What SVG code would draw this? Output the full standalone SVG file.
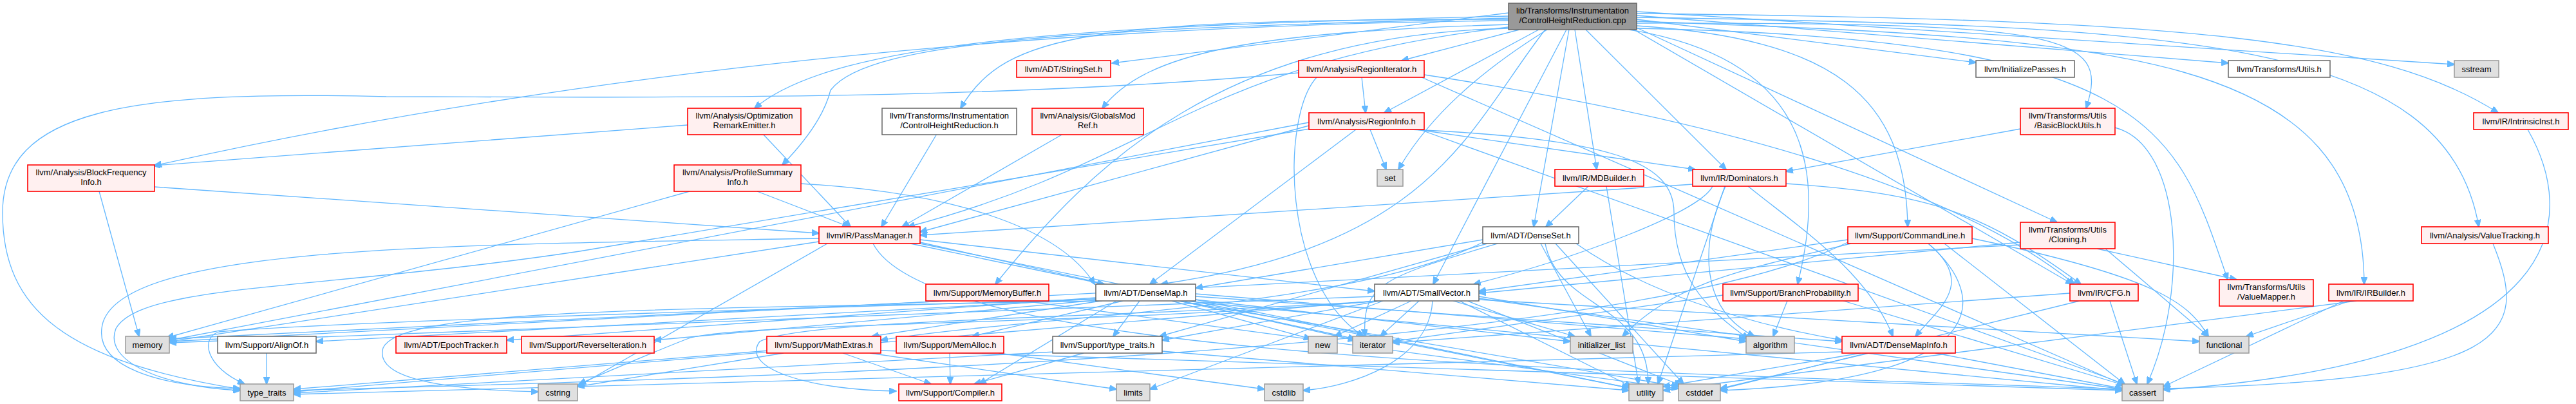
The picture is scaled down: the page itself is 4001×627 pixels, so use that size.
<svg xmlns="http://www.w3.org/2000/svg" width="4001" height="627" viewBox="0 0 4001 627">
<style>
.e{fill:none;stroke:#63b8ff;stroke-width:1.3;marker-end:url(#ah)}
.r{fill:#fff0f0;stroke:#ff0000;stroke-width:1.6}
.w{fill:#ffffff;stroke:#666666;stroke-width:1.5}
.g{fill:#e0e0e0;stroke:#999999;stroke-width:1.5}
.m{fill:#999999;stroke:#666666;stroke-width:1.5}
text{font-family:"Liberation Sans",Arial,Helvetica,sans-serif;font-size:13px;text-anchor:middle;fill:#000000}
</style>
<defs>
<marker id="ah" viewBox="0 0 12 10" refX="11" refY="5" markerWidth="12" markerHeight="10" markerUnits="userSpaceOnUse" orient="auto"><path d="M0,0 L12,5 L0,10 z" fill="#63b8ff" stroke="#63b8ff" stroke-width="1"/></marker>
</defs>
<rect x="0" y="0" width="4001" height="627" fill="#ffffff"/>
<g id="edges">
<path class="e" d="M2343 20 L1727 98"/>
<path class="e" d="M2360 46 L2177 94"/>
<path class="e" d="M2542 30 L3069 97"/>
<path class="e" d="M2542 24 L3461 98"/>
<path class="e" d="M2542 18 L3812 100"/>
<path class="e" d="M2343 25 C1700 40 1300 60 1172 168"/>
<path class="e" d="M2343 30 C1700 30 1560 50 1492 168"/>
<path class="e" d="M2343 38 C1950 50 1780 80 1712 168"/>
<path class="e" d="M2390 46 L2150 175"/>
<path class="e" d="M2542 36 C3200 35 3280 50 3240 168"/>
<path class="e" d="M2542 21 C3400 30 3700 60 3880 175"/>
<path class="e" d="M2343 32 C1600 40 900 110 240 257"/>
<path class="e" d="M2343 28 C1700 45 1350 60 1290 140 C1280 180 1250 220 1215 256"/>
<path class="e" d="M2403 46 C2300 110 2220 180 2172 263"/>
<path class="e" d="M2446 46 L2480 263"/>
<path class="e" d="M2463 46 L2681 263"/>
<path class="e" d="M2343 42 C1850 100 1800 250 1410 352"/>
<path class="e" d="M2437 46 L2382 352"/>
<path class="e" d="M2542 40 C2850 60 2960 150 2963 352"/>
<path class="e" d="M2542 43 L3195 345"/>
<path class="e" d="M2542 27 C3400 40 3800 60 3850 352"/>
<path class="e" d="M2343 44 C1900 55 1700 250 1546 441"/>
<path class="e" d="M2400 46 C2280 200 2230 380 1803 441"/>
<path class="e" d="M2433 46 L2226 441"/>
<path class="e" d="M2530 46 C2800 90 2840 250 2792 441"/>
<path class="e" d="M2538 46 L3219 441"/>
<path class="e" d="M2542 44 C3350 60 3380 200 3460 434"/>
<path class="e" d="M2542 33 C3300 60 3670 80 3672 441"/>
<path class="e" d="M2115 120 L2121 175"/>
<path class="e" d="M2212 116 C2700 190 3050 300 3222 441"/>
<path class="e" d="M2208 120 L3300 598"/>
<path class="e" d="M2045 120 C1990 180 1990 440 2118 522"/>
<path class="e" d="M2017 113 C1500 160 900 150 600 150 C200 140 4 170 4 330 C4 480 100 560 373 604"/>
<path class="e" d="M1068 194 L238 257"/>
<path class="e" d="M1185 208 L1321 352"/>
<path class="e" d="M1455 208 L1369 352"/>
<path class="e" d="M1651 208 L1401 352"/>
<path class="e" d="M2106 201 L1786 441"/>
<path class="e" d="M2200 201 L2633 263"/>
<path class="e" d="M2033 195 L1429 360"/>
<path class="e" d="M2190 201 C2500 215 2600 250 2600 330 C2600 430 2650 480 2716 526"/>
<path class="e" d="M2205 201 L3300 596"/>
<path class="e" d="M2033 190 L263 528"/>
<path class="e" d="M2128 201 L2153 263"/>
<path class="e" d="M2040 199 L900 390 C500 450 220 440 180 510 C160 560 250 600 373 606"/>
<path class="e" d="M3138 200 L2774 266"/>
<path class="e" d="M3285 198 C3390 225 3400 450 3335 596"/>
<path class="e" d="M3926 201 C4000 330 4010 560 3360 605"/>
<path class="e" d="M3872 378 C3930 520 3900 590 3360 603"/>
<path class="e" d="M240 290 L1272 362"/>
<path class="e" d="M154 297 L216 522"/>
<path class="e" d="M1244 285 C1500 300 1650 360 1700 441"/>
<path class="e" d="M1176 297 L1319 352"/>
<path class="e" d="M1071 297 L259 524"/>
<path class="e" d="M2467 289 L2401 352"/>
<path class="e" d="M2495 289 L2545 596"/>
<path class="e" d="M2715 289 C2790 350 2900 420 2940 522"/>
<path class="e" d="M2660 289 C2640 330 2450 400 2289 441"/>
<path class="e" d="M2774 285 C3000 300 3080 330 3232 441"/>
<path class="e" d="M2629 286 L1429 365"/>
<path class="e" d="M2680 289 C2640 380 2640 480 2725 522"/>
<path class="e" d="M2679 289 L2575 596"/>
<path class="e" d="M1414 378 L1715 441"/>
<path class="e" d="M1429 372 L2135 452"/>
<path class="e" d="M1356 378 C1450 560 2500 575 3296 604"/>
<path class="e" d="M1285 378 L897 600"/>
<path class="e" d="M1429 376 L2105 528"/>
<path class="e" d="M1272 375 L263 530"/>
<path class="e" d="M1272 370 C700 380 200 380 160 500 C140 570 250 600 373 603"/>
<path class="e" d="M1429 378 L2530 602"/>
<path class="e" d="M2303 372 L1857 447"/>
<path class="e" d="M2448 378 C2550 450 2700 500 2861 528"/>
<path class="e" d="M2303 376 C2100 480 1600 490 1368 528"/>
<path class="e" d="M2310 378 L1801 522"/>
<path class="e" d="M2416 378 L2615 596"/>
<path class="e" d="M2393 378 L2471 522"/>
<path class="e" d="M2326 378 C2150 430 2115 440 2120 522"/>
<path class="e" d="M2400 378 C2420 480 2560 470 2560 596"/>
<path class="e" d="M2870 372 L2297 452"/>
<path class="e" d="M3020 378 L3300 596"/>
<path class="e" d="M2995 378 C3090 460 3100 590 2672 606"/>
<path class="e" d="M3063 370 C3350 430 3400 470 3430 522"/>
<path class="e" d="M2875 378 C2700 420 2600 440 2520 522"/>
<path class="e" d="M2870 376 C2500 560 1000 590 456 606"/>
<path class="e" d="M2995 378 C3070 440 3010 480 2975 522"/>
<path class="e" d="M3138 376 L2297 455"/>
<path class="e" d="M3257 386 L3474 434"/>
<path class="e" d="M3270 386 L3430 522"/>
<path class="e" d="M3138 380 L263 530"/>
<path class="e" d="M1590 467 L2607 603"/>
<path class="e" d="M1470 467 L263 526"/>
<path class="e" d="M1857 460 L2861 530"/>
<path class="e" d="M1702 462 L787 528"/>
<path class="e" d="M1702 464 L491 530"/>
<path class="e" d="M1734 467 L1521 596"/>
<path class="e" d="M1710 467 L1354 522"/>
<path class="e" d="M1744 467 L1510 522"/>
<path class="e" d="M1702 466 L1016 528"/>
<path class="e" d="M1770 467 L1729 522"/>
<path class="e" d="M1857 456 L2712 526"/>
<path class="e" d="M1840 467 L3296 606"/>
<path class="e" d="M1830 467 L2607 600"/>
<path class="e" d="M1712 467 C1000 480 620 480 595 540 C580 590 700 605 836 608"/>
<path class="e" d="M1857 465 L2439 530"/>
<path class="e" d="M1832 467 L2105 526"/>
<path class="e" d="M1820 467 L2036 526"/>
<path class="e" d="M1706 464 C1200 480 500 500 340 515 C310 525 320 570 380 596"/>
<path class="e" d="M1850 467 L2530 602"/>
<path class="e" d="M2145 467 C1700 495 1250 495 1180 530 C1150 570 1250 605 1392 607"/>
<path class="e" d="M2142 467 L1805 528"/>
<path class="e" d="M2297 460 L2712 530"/>
<path class="e" d="M2297 463 L3296 604"/>
<path class="e" d="M2279 467 L2611 598"/>
<path class="e" d="M2225 467 C2220 560 2100 600 2024 606"/>
<path class="e" d="M2139 467 C1700 505 1150 500 1070 525 C1030 540 960 570 899 596"/>
<path class="e" d="M2297 465 L3416 530"/>
<path class="e" d="M2257 467 L2446 522"/>
<path class="e" d="M2204 467 L2144 522"/>
<path class="e" d="M2148 467 L1786 604"/>
<path class="e" d="M2135 460 L263 532"/>
<path class="e" d="M2192 467 L2073 522"/>
<path class="e" d="M2139 467 L456 608"/>
<path class="e" d="M2267 467 L2534 600"/>
<path class="e" d="M2776 467 L2754 522"/>
<path class="e" d="M2863 467 L3300 598"/>
<path class="e" d="M2676 458 L2163 530"/>
<path class="e" d="M3277 467 L3319 596"/>
<path class="e" d="M3230 467 L2672 604"/>
<path class="e" d="M3215 455 L2163 532"/>
<path class="e" d="M3640 467 L3360 600"/>
<path class="e" d="M3650 467 L3489 522"/>
<path class="e" d="M3660 467 L2583 606"/>
<path class="e" d="M414 548 L414 596"/>
<path class="e" d="M1309 548 L1446 596"/>
<path class="e" d="M1368 544 L3296 606"/>
<path class="e" d="M1217 548 L897 600"/>
<path class="e" d="M1351 548 L1734 604"/>
<path class="e" d="M1195 544 L456 604"/>
<path class="e" d="M1475 548 L1476 596"/>
<path class="e" d="M1551 548 L1964 604"/>
<path class="e" d="M1683 548 L1513 596"/>
<path class="e" d="M1639 546 L456 610"/>
<path class="e" d="M1805 545 L2530 606"/>
<path class="e" d="M3006 548 L3296 603"/>
<path class="e" d="M2903 548 L2672 603"/>
<path class="e" d="M2861 546 L456 612"/>
<path class="e" d="M2890 548 L2583 600"/>
</g>
<g id="n-main"><rect class="m" x="2343" y="5" width="199" height="41"/><text x="2442.5" y="21">lib/Transforms/Instrumentation</text><text x="2442.5" y="36">/ControlHeightReduction.cpp</text></g>
<g id="n-stringset"><rect class="r" x="1579" y="94" width="146" height="26"/><text x="1652" y="112">llvm/ADT/StringSet.h</text></g>
<g id="n-regioniterator"><rect class="r" x="2017" y="94" width="195" height="26"/><text x="2114.5" y="112">llvm/Analysis/RegionIterator.h</text></g>
<g id="n-initializepasses"><rect class="w" x="3069" y="94" width="153" height="26"/><text x="3145.5" y="112">llvm/InitializePasses.h</text></g>
<g id="n-utils"><rect class="w" x="3461" y="94" width="158" height="26"/><text x="3540" y="112">llvm/Transforms/Utils.h</text></g>
<g id="n-sstream"><rect class="g" x="3812" y="94" width="69" height="26"/><text x="3846.5" y="112">sstream</text></g>
<g id="n-optremark"><rect class="r" x="1068" y="168" width="176" height="41"/><text x="1156" y="184">llvm/Analysis/Optimization</text><text x="1156" y="199">RemarkEmitter.h</text></g>
<g id="n-chrh"><rect class="w" x="1370" y="168" width="209" height="41"/><text x="1474.5" y="184">llvm/Transforms/Instrumentation</text><text x="1474.5" y="199">/ControlHeightReduction.h</text></g>
<g id="n-globalsmodref"><rect class="r" x="1603" y="168" width="173" height="41"/><text x="1689.5" y="184">llvm/Analysis/GlobalsMod</text><text x="1689.5" y="199">Ref.h</text></g>
<g id="n-regioninfo"><rect class="r" x="2033" y="175" width="179" height="26"/><text x="2122.5" y="193">llvm/Analysis/RegionInfo.h</text></g>
<g id="n-basicblockutils"><rect class="r" x="3138" y="168" width="147" height="41"/><text x="3211.5" y="184">llvm/Transforms/Utils</text><text x="3211.5" y="199">/BasicBlockUtils.h</text></g>
<g id="n-intrinsicinst"><rect class="r" x="3842" y="175" width="147" height="26"/><text x="3915.5" y="193">llvm/IR/IntrinsicInst.h</text></g>
<g id="n-bfi"><rect class="r" x="43" y="256" width="197" height="41"/><text x="141.5" y="272">llvm/Analysis/BlockFrequency</text><text x="141.5" y="287">Info.h</text></g>
<g id="n-psi"><rect class="r" x="1047" y="256" width="197" height="41"/><text x="1145.5" y="272">llvm/Analysis/ProfileSummary</text><text x="1145.5" y="287">Info.h</text></g>
<g id="n-set"><rect class="g" x="2139" y="263" width="40" height="26"/><text x="2159" y="281">set</text></g>
<g id="n-mdbuilder"><rect class="r" x="2415" y="263" width="138" height="26"/><text x="2484" y="281">llvm/IR/MDBuilder.h</text></g>
<g id="n-dominators"><rect class="r" x="2629" y="263" width="145" height="26"/><text x="2701.5" y="281">llvm/IR/Dominators.h</text></g>
<g id="n-passmanager"><rect class="r" x="1272" y="352" width="157" height="26"/><text x="1350.5" y="370">llvm/IR/PassManager.h</text></g>
<g id="n-denseset"><rect class="w" x="2303" y="352" width="149" height="26"/><text x="2377.5" y="370">llvm/ADT/DenseSet.h</text></g>
<g id="n-commandline"><rect class="r" x="2870" y="352" width="193" height="26"/><text x="2966.5" y="370">llvm/Support/CommandLine.h</text></g>
<g id="n-cloning"><rect class="r" x="3138" y="345" width="147" height="41"/><text x="3211.5" y="361">llvm/Transforms/Utils</text><text x="3211.5" y="376">/Cloning.h</text></g>
<g id="n-valuetracking"><rect class="r" x="3761" y="352" width="197" height="26"/><text x="3859.5" y="370">llvm/Analysis/ValueTracking.h</text></g>
<g id="n-memorybuffer"><rect class="r" x="1438" y="441" width="191" height="26"/><text x="1533.5" y="459">llvm/Support/MemoryBuffer.h</text></g>
<g id="n-densemap"><rect class="w" x="1702" y="441" width="155" height="26"/><text x="1779.5" y="459">llvm/ADT/DenseMap.h</text></g>
<g id="n-smallvector"><rect class="w" x="2135" y="441" width="162" height="26"/><text x="2216" y="459">llvm/ADT/SmallVector.h</text></g>
<g id="n-branchprob"><rect class="r" x="2676" y="441" width="210" height="26"/><text x="2781" y="459">llvm/Support/BranchProbability.h</text></g>
<g id="n-cfg"><rect class="r" x="3215" y="441" width="106" height="26"/><text x="3268" y="459">llvm/IR/CFG.h</text></g>
<g id="n-valuemapper"><rect class="r" x="3447" y="434" width="146" height="41"/><text x="3520" y="450">llvm/Transforms/Utils</text><text x="3520" y="465">/ValueMapper.h</text></g>
<g id="n-irbuilder"><rect class="r" x="3617" y="441" width="131" height="26"/><text x="3682.5" y="459">llvm/IR/IRBuilder.h</text></g>
<g id="n-memory"><rect class="g" x="195" y="522" width="68" height="26"/><text x="229" y="540">memory</text></g>
<g id="n-alignof"><rect class="w" x="338" y="522" width="153" height="26"/><text x="414.5" y="540">llvm/Support/AlignOf.h</text></g>
<g id="n-epochtracker"><rect class="r" x="615" y="522" width="172" height="26"/><text x="701" y="540">llvm/ADT/EpochTracker.h</text></g>
<g id="n-reverseiteration"><rect class="r" x="810" y="522" width="206" height="26"/><text x="913" y="540">llvm/Support/ReverseIteration.h</text></g>
<g id="n-mathextras"><rect class="r" x="1191" y="522" width="177" height="26"/><text x="1279.5" y="540">llvm/Support/MathExtras.h</text></g>
<g id="n-memalloc"><rect class="r" x="1392" y="522" width="167" height="26"/><text x="1475.5" y="540">llvm/Support/MemAlloc.h</text></g>
<g id="n-support-type-traits"><rect class="w" x="1635" y="522" width="170" height="26"/><text x="1720" y="540">llvm/Support/type_traits.h</text></g>
<g id="n-new"><rect class="g" x="2032" y="522" width="45" height="26"/><text x="2054.5" y="540">new</text></g>
<g id="n-iterator"><rect class="g" x="2101" y="522" width="62" height="26"/><text x="2132" y="540">iterator</text></g>
<g id="n-initializer-list"><rect class="g" x="2439" y="522" width="97" height="26"/><text x="2487.5" y="540">initializer_list</text></g>
<g id="n-algorithm"><rect class="g" x="2712" y="522" width="75" height="26"/><text x="2749.5" y="540">algorithm</text></g>
<g id="n-densemapinfo"><rect class="r" x="2861" y="522" width="176" height="26"/><text x="2949" y="540">llvm/ADT/DenseMapInfo.h</text></g>
<g id="n-functional"><rect class="g" x="3416" y="522" width="77" height="26"/><text x="3454.5" y="540">functional</text></g>
<g id="n-type-traits"><rect class="g" x="373" y="596" width="83" height="26"/><text x="414.5" y="614">type_traits</text></g>
<g id="n-cstring"><rect class="g" x="836" y="596" width="61" height="26"/><text x="866.5" y="614">cstring</text></g>
<g id="n-compiler"><rect class="r" x="1396" y="596" width="160" height="26"/><text x="1476" y="614">llvm/Support/Compiler.h</text></g>
<g id="n-limits"><rect class="g" x="1734" y="596" width="52" height="26"/><text x="1760" y="614">limits</text></g>
<g id="n-cstdlib"><rect class="g" x="1964" y="596" width="60" height="26"/><text x="1994" y="614">cstdlib</text></g>
<g id="n-utility"><rect class="g" x="2530" y="596" width="53" height="26"/><text x="2556.5" y="614">utility</text></g>
<g id="n-cstddef"><rect class="g" x="2607" y="596" width="65" height="26"/><text x="2639.5" y="614">cstddef</text></g>
<g id="n-cassert"><rect class="g" x="3296" y="596" width="64" height="26"/><text x="3328" y="614">cassert</text></g>
</svg>
